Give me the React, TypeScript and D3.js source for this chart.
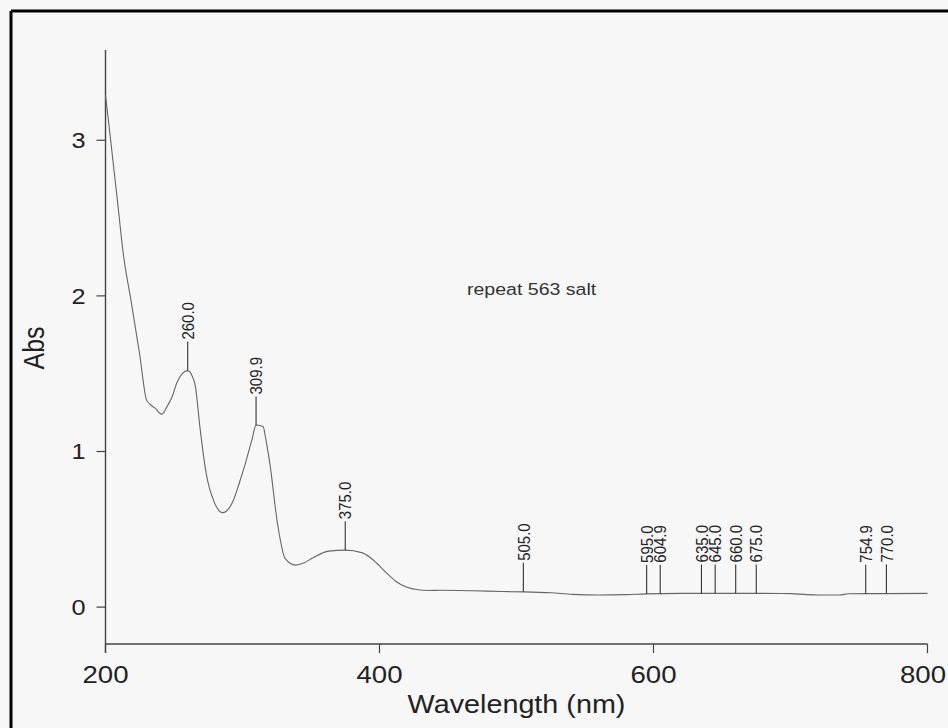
import React from "react";
import * as d3 from "d3";

// Spectrum data (wavelength in nm, absorbance)
const wavelengths = [
  200, 203, 208.6, 213, 219, 225, 230, 233, 236, 241, 245, 249, 252, 256, 260, 263, 265.6,
  269, 273.6, 279.6, 285.5, 292.8, 297, 302.8, 307, 310, 315, 317, 320, 325.5, 331, 338.6,
  345, 351, 363, 375, 387, 393, 399.4, 405, 412, 420, 428, 436, 445, 468, 490, 505, 525,
  541, 560, 580, 595, 620, 650, 680, 700, 712, 720, 736, 742, 770, 800,
];
const absorbance = [
  3.29, 3.06, 2.62, 2.27, 1.95, 1.62, 1.33, 1.3, 1.28, 1.24, 1.29, 1.36, 1.44, 1.5, 1.52, 1.49, 1.42,
  1.15, 0.855, 0.67, 0.607, 0.675, 0.78, 0.945, 1.08, 1.17, 1.16, 1.08, 0.92, 0.54, 0.315, 0.27,
  0.285, 0.315, 0.36, 0.366, 0.35, 0.32, 0.27, 0.22, 0.165, 0.128, 0.112, 0.107, 0.108, 0.105, 0.1, 0.098, 0.092,
  0.082, 0.078, 0.08, 0.085, 0.088, 0.088, 0.088, 0.087, 0.08, 0.078, 0.078, 0.086, 0.087, 0.088,
];

// Peak markers
const peakWavelengths = [260.0, 309.9, 375.0, 505.0, 595.0, 604.9, 635.0, 645.0, 660.0, 675.0, 754.9, 770.0];
const peakLabels = ["260.0", "309.9", "375.0", "505.0", "595.0", "604.9", "635.0", "645.0", "660.0", "675.0", "754.9", "770.0"];

// Axis ticks
const xTicks = [200, 400, 600, 800];
const yTicks = [0, 1, 2, 3];

const annotation = "repeat 563 salt";
const xTitle = "Wavelength (nm)";
const yTitle = "Abs";

const W = 948;
const H = 728;
const STRETCH = 1.15;
const FONT = "'Liberation Sans', Arial, Helvetica, sans-serif";

export default function App() {
  const x = d3.scaleLinear().domain([200, 800]).range([105.5, 927.5]);
  const y = d3.scaleLinear().domain([-0.237, 3.58]).range([644, 50]);

  const pts: [number, number][] = wavelengths.map((w, i) => [w, absorbance[i]]);
  const line = d3
    .line<[number, number]>()
    .x((d) => x(d[0]))
    .y((d) => y(d[1]))
    .curve(d3.curveMonotoneX);

  const interp = (w: number) => {
    const i = d3.bisectLeft(wavelengths, w);
    if (i <= 0) return absorbance[0];
    if (i >= wavelengths.length) return absorbance[absorbance.length - 1];
    const w0 = wavelengths[i - 1];
    const w1 = wavelengths[i];
    const t = (w - w0) / (w1 - w0);
    return absorbance[i - 1] + t * (absorbance[i] - absorbance[i - 1]);
  };

  const axisY = y(-0.237);
  const axisX = x(200);

  return (
    <svg
      width={W}
      height={H}
      style={{ position: "absolute", left: 0, top: 0, display: "block" }}
      fontFamily={FONT}
    >
      <rect x={0} y={0} width={W} height={H} fill="#f7f7f8" />
      {/* frame */}
      <line x1={11} y1={11} x2={W} y2={11} stroke="#000" strokeWidth={3} />
      <line x1={11} y1={11} x2={11} y2={H} stroke="#000" strokeWidth={3} />

      {/* axes */}
      <line x1={axisX} y1={y(3.58)} x2={axisX} y2={axisY + 9} stroke="#444" strokeWidth={1.4} />
      <line x1={axisX} y1={axisY} x2={x(800)} y2={axisY} stroke="#444" strokeWidth={1.4} />

      {xTicks.map((t) => {
        const cx = Math.min(x(t), W - 25);
        return (
          <g key={"xt" + t}>
            <line x1={x(t)} y1={axisY} x2={x(t)} y2={axisY + 9} stroke="#444" strokeWidth={1.2} />
            <text
              transform={`translate(${cx},${683}) scale(${STRETCH},1)`}
              textAnchor="middle"
              fontSize={24}
              fill="#222"
            >
              {t}
            </text>
          </g>
        );
      })}

      {yTicks.map((t) => (
        <g key={"yt" + t}>
          <line x1={axisX - 9} y1={y(t)} x2={axisX} y2={y(t)} stroke="#444" strokeWidth={1.2} />
          <text
            transform={`translate(${axisX - 20},${y(t) + 8}) scale(${STRETCH},1)`}
            textAnchor="end"
            fontSize={22}
            fill="#222"
          >
            {t}
          </text>
        </g>
      ))}

      {/* titles */}
      <text
        transform={`translate(${(x(200) + x(800)) / 2},${713}) scale(${STRETCH},1)`}
        textAnchor="middle"
        fontSize={25}
        fill="#222"
      >
        {xTitle}
      </text>
      <text
        transform={`translate(${44},${348}) scale(${STRETCH},1) rotate(-90)`}
        textAnchor="middle"
        fontSize={25}
        fill="#222"
      >
        {yTitle}
      </text>

      {/* annotation */}
      <text
        transform={`translate(${467},${295}) scale(${STRETCH},1)`}
        fontSize={17}
        fill="#333"
      >
        {annotation}
      </text>

      {/* spectrum */}
      <path d={line(pts) || ""} fill="none" stroke="#666" strokeWidth={1.1} />

      {/* peak markers */}
      {peakWavelengths.map((w, i) => {
        const px = x(w);
        const py = y(interp(w));
        const top = py - 29;
        return (
          <g key={"pk" + i}>
            <line x1={px} y1={py} x2={px} y2={top} stroke="#333" strokeWidth={1.1} />
            <text
              transform={`translate(${px},${top - 2}) scale(${STRETCH},1) rotate(-90)`}
              dy="0.36em"
              fontSize={15}
              fill="#222"
            >
              {peakLabels[i]}
            </text>
          </g>
        );
      })}
    </svg>
  );
}
